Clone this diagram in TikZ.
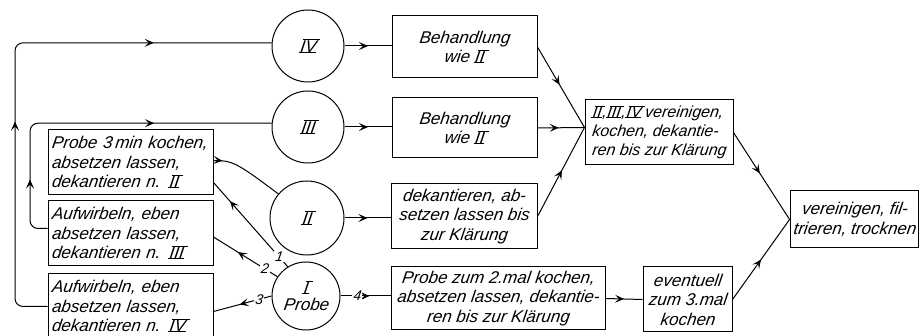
\documentclass[tikz,border=0pt]{standalone}
\usepackage{fontspec}
\usetikzlibrary{arrows.meta,decorations.markings}
% slanted technical lettering
\newfontfamily\lett{Liberation Sans}[UprightFont=*-Italic, FakeSlant=0.14]
% roman numeral with a bar on top and one below
\newlength\rnbar
\newcommand\rnum[1]{\setbox0\hbox{#1}\rnbar=\dimexpr\wd0+1.5pt\relax
  \leavevmode\kern0.5pt
  \rlap{\kern-1pt\raisebox{\dimexpr\ht0+0.2pt}{\kern0.33\ht0\rule{\rnbar}{0.9pt}}}%
  \rlap{\kern-1.2pt\raisebox{-0.4pt}{\rule{\rnbar}{0.9pt}}}\box0\kern0.8pt}

\tikzset{
  line/.style={line width=1pt},
  tipmark/.style={postaction={decorate},
    decoration={markings, mark=at position #1 with {\arrow{Stealth[length=9pt,width=8pt,inset=4pt]}}}},
  twomarks/.style 2 args={postaction={decorate},
    decoration={markings,
      mark=at position #1 with {\arrow{Stealth[length=9pt,width=8pt,inset=4pt]}},
      mark=at position #2 with {\arrow{Stealth[length=9pt,width=8pt,inset=4pt]}}}},
  box/.style={draw, line width=1pt, inner sep=3pt,
    font=\lett\fontsize{17}{19.5}\selectfont, align=center},
  lbox/.style={box, align=left},
  stage/.style={draw, circle, line width=1pt, inner sep=0pt,
    font=\lett\fontsize{17}{19}\selectfont, align=center},
  num/.style={fill=white, inner sep=1pt, font=\lett\fontsize{14}{14}\selectfont},
}

\begin{document}
\begin{tikzpicture}[x=1pt,y=-1pt]
\clip (0,0) rectangle (919,336);

% stages
\node[stage, minimum size=72pt] (cIV) at (308,46) {\rnum{IV}};
\node[stage, minimum size=72pt] (cIII) at (308,127) {\rnum{III}};
\node[stage, minimum size=74pt] (cII) at (307,218) {\rnum{II}};
\node[stage, minimum size=68pt] (cI) at (306,296) {\rnum{I}\\[-2pt]Probe};

% left boxes
\node[lbox, minimum width=165pt, minimum height=65pt, text width=158pt] (lA) at (130.5,162.5)
  {Probe 3\,min kochen,\\absetzen lassen,\\dekantieren n. \rnum{II}};
\node[lbox, minimum width=165pt, minimum height=65pt, text width=158pt] (lB) at (130.5,233.5)
  {Aufwirbeln, eben\\absetzen lassen,\\dekantieren n. \rnum{III}};
\node[lbox, minimum width=165pt, minimum height=66pt, text width=158pt] (lC) at (130.5,306.5)
  {Aufwirbeln, eben\\absetzen lassen,\\dekantieren n. \rnum{IV}};

% middle boxes
\node[box, minimum width=145pt, minimum height=62pt] (bIV) at (464.5,47)
  {Behandlung\\wie \rnum{II}};
\node[box, minimum width=145pt, minimum height=60pt] (bIII) at (464.5,128)
  {Behandlung\\wie \rnum{II}};
\node[box, minimum width=146pt, minimum height=65pt] (bII) at (464,216.5)
  {dekantieren, ab-\\setzen lassen bis\\zur Klärung};
\node[box, minimum width=214pt, minimum height=63pt] (bI) at (498,298.5)
  {Probe zum 2.mal kochen,\\absetzen lassen, dekantie-\\ren bis zur Klärung};
\node[box, minimum width=89pt, minimum height=65pt] (bEv) at (687.5,299.5)
  {eventuell\\zum 3.mal\\kochen};

% right boxes
\node[lbox, minimum width=148pt, minimum height=65pt, inner sep=2pt,
  font=\lett\fontsize{16}{19}\selectfont] (bJoin) at (659,132.5)
  {\rnum{II},\rnum{III},\rnum{IV}\,vereinigen,\\kochen, dekantie-\\ren bis zur Klärung};
\node[box, minimum width=125pt, minimum height=57pt] (bFinal) at (854.5,219.5)
  {vereinigen, fil-\\trieren, trocknen};

\coordinate (oL) at (15,0);
\coordinate (iL) at (30,0);
\coordinate (bOut) at ([yshift=5pt]lB.west);
\coordinate (jin) at ([yshift=5pt]bJoin.west);
\coordinate (fin) at (bFinal.west);

% return lines on the left
\draw[line, rounded corners=8pt, twomarks={214pt}{428pt}]
  (lC.west) -- (oL |- lC.west) -- (oL |- cIV.175) -- (cIV.175);
\draw[line, rounded corners=8pt, twomarks={63pt}{240pt}]
  (bOut) -- (iL |- bOut) -- (iL |- cIII.174) -- (cIII.174);
\draw[line, tipmark=9pt]
  ([yshift=2pt]lA.east) .. controls (232,160.5) and (236,162) .. (cII.140);

% sample lines from stage I
\draw[line, tipmark=0.78] (cI.122) -- ([yshift=13pt]lA.south east)
  node[num, pos=0.12] {1};
\draw[line, tipmark=0.62] (cI.146) -- ([yshift=-3.5pt]lB.east)
  node[num, pos=0.2] {2};
\draw[line, tipmark=0.55] (cI.west) -- ([yshift=-5pt]lC.east)
  node[num, pos=0.22] {3};
\draw[line, tipmark=0.58] (cI.east) -- (cI.east -| bI.west)
  node[num, pos=0.33] {4};

% stages to their treatments
\draw[line, tipmark=0.5] (cIV.east) -- (cIV.east -| bIV.west);
\draw[line, tipmark=0.5] (cIII.east) -- (cIII.east -| bIII.west);
\draw[line, tipmark=0.5] (cII.east) -- (cII.east -| bII.west);

% joining
\draw[line, tipmark=0.47] (bIV.east) -- (jin);
\draw[line, tipmark=0.45] (bIII.east) -- (jin);
\draw[line, tipmark=0.52] (bII.east) -- (jin);
\draw[line, tipmark=0.5] (bI.east) -- (bEv.west);
\draw[line, tipmark=0.47] (bJoin.east) -- (fin);
\draw[line, tipmark=0.5] (bEv.east) -- (fin);
\end{tikzpicture}
\end{document}
